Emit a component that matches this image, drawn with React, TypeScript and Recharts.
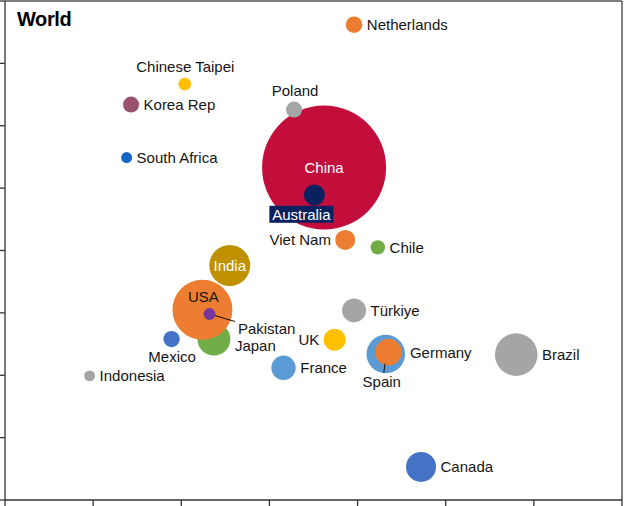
import React from "react";
import {
  ScatterChart,
  Scatter,
  XAxis,
  YAxis,
  ZAxis,
  ReferenceLine,
  Cell,
} from "recharts";

// ---- data (drawing order matters: later points sit on top) ----
const countries = [
  "China",
  "Australia",
  "Netherlands",
  "Chinese Taipei",
  "Korea Rep",
  "Poland",
  "South Africa",
  "Viet Nam",
  "Chile",
  "India",
  "Türkiye",
  "Japan",
  "USA",
  "Pakistan",
  "Mexico",
  "Indonesia",
  "UK",
  "France",
  "Spain",
  "Germany",
  "Brazil",
  "Canada",
];
const xValues = [
  3.62, 3.51, 3.96, 2.04, 1.43, 3.28, 1.38, 3.86, 4.23, 2.55, 3.96, 2.37, 2.24,
  2.32, 1.89, 0.96, 3.74, 3.16, 4.32, 4.35, 5.8, 4.72,
];
const yValues = [
  5.33, 4.89, 7.62, 6.67, 6.34, 6.26, 5.49, 4.17, 4.05, 3.76, 3.04, 2.58, 3.05,
  2.98, 2.58, 1.99, 2.57, 2.12, 2.34, 2.37, 2.33, 0.53,
];
const sizeValues = [
  3844, 110, 69, 40, 64, 64, 30, 100, 52, 420, 144, 272, 900, 36, 67, 30, 121,
  149, 372, 177, 454, 225,
];
const xTicks = [0, 1, 2, 3, 4, 5, 6, 7];
const yTicks = [0, 1, 2, 3, 4, 5, 6, 7, 8];
const title = "World";

// ---- styles ----
const colors: Record<string, string> = {
  China: "#C30D3B",
  Australia: "#0A2160",
  Netherlands: "#ED7D31",
  "Chinese Taipei": "#FFC000",
  "Korea Rep": "#985270",
  Poland: "#A5A5A5",
  "South Africa": "#1666C5",
  "Viet Nam": "#ED7D31",
  Chile: "#70AD47",
  India: "#BF9000",
  "Türkiye": "#A5A5A5",
  Japan: "#70AD47",
  USA: "#ED7D31",
  Pakistan: "#7437A0",
  Mexico: "#4472C4",
  Indonesia: "#A5A5A5",
  UK: "#FFC000",
  France: "#5B9BD5",
  Spain: "#5B9BD5",
  Germany: "#ED7D31",
  Brazil: "#A5A5A5",
  Canada: "#4472C4",
};

type LabelCfg = {
  pos: "right" | "left" | "offset";
  dx?: number;
  dy?: number;
  anchor?: "start" | "middle" | "end";
  color?: string;
  bg?: { fill: string; w: number; h: number };
  leader?: [number, number, number, number];
};

const labelLayout: Record<string, LabelCfg> = {
  China: { pos: "offset", dx: 0, dy: 0, anchor: "middle", color: "#ffffff" },
  Australia: {
    pos: "offset",
    dx: -13,
    dy: 19.3,
    anchor: "middle",
    color: "#ffffff",
    bg: { fill: "#0A2160", w: 64, h: 17 },
  },
  "Chinese Taipei": { pos: "offset", dx: 0.5, dy: -17, anchor: "middle" },
  Poland: { pos: "offset", dx: 1, dy: -18.3, anchor: "middle" },
  "Viet Nam": { pos: "left" },
  UK: { pos: "left" },
  India: { pos: "offset", dx: 0, dy: 0, anchor: "middle", color: "#ffffff" },
  USA: { pos: "offset", dx: 1, dy: -13, anchor: "middle" },
  Pakistan: {
    pos: "offset",
    dx: 28.4,
    dy: 15,
    anchor: "start",
    leader: [5.5, 1.5, 25.7, 7.4],
  },
  Japan: { pos: "offset", dx: 21, dy: 6.4, anchor: "start" },
  Mexico: { pos: "offset", dx: 0.5, dy: 18, anchor: "middle" },
  Spain: {
    pos: "offset",
    dx: -4,
    dy: 27.5,
    anchor: "middle",
    leader: [-0.7, 9.5, -2, 18.8],
  },
  Germany: { pos: "offset", dx: 21.5, dy: 0.5, anchor: "start" },
};

const FONT = "'Liberation Sans', Arial, Helvetica, sans-serif";
const TEXT_COLOR = "#151515";
const AXIS_COLOR = "#333333";
const BORDER_COLOR = "#555555";

const data = countries.map((name, i) => ({
  name,
  x: xValues[i],
  y: yValues[i],
  size: sizeValues[i],
}));

const maxSize = Math.max(...sizeValues);

function radiusOf(props: any): number {
  if (typeof props.width === "number" && props.width > 0) return props.width / 2;
  if (typeof props.size === "number") return Math.sqrt(props.size / Math.PI);
  return 0;
}

function BubbleShape(props: any) {
  const { cx, cy, fill } = props;
  if (cx == null || cy == null) return <g />;
  const r = radiusOf(props);
  return <circle cx={cx} cy={cy} r={r} fill={fill} />;
}

function LabelShape(props: any) {
  const { cx, cy, payload } = props;
  if (cx == null || cy == null || !payload) return <g />;
  const r = radiusOf(props);
  const cfg: LabelCfg = labelLayout[payload.name] || { pos: "right" };
  let x = cx;
  let y = cy;
  let anchor: "start" | "middle" | "end" = "start";
  if (cfg.pos === "right") {
    x = cx + r + 4.5;
    anchor = "start";
  } else if (cfg.pos === "left") {
    x = cx - r - 4.3;
    anchor = "end";
  } else {
    x = cx + (cfg.dx || 0);
    y = cy + (cfg.dy || 0);
    anchor = cfg.anchor || "start";
  }
  return (
    <g>
      {cfg.leader && (
        <line
          x1={cx + cfg.leader[0]}
          y1={cy + cfg.leader[1]}
          x2={cx + cfg.leader[2]}
          y2={cy + cfg.leader[3]}
          stroke="#111"
          strokeWidth={1}
        />
      )}
      {cfg.bg && (
        <rect
          x={x - cfg.bg.w / 2}
          y={y - cfg.bg.h / 2}
          width={cfg.bg.w}
          height={cfg.bg.h}
          fill={cfg.bg.fill}
        />
      )}
      <text
        x={x}
        y={y}
        dy="0.35em"
        textAnchor={anchor}
        fontFamily={FONT}
        fontSize={15}
        fill={cfg.color || TEXT_COLOR}
      >
        {payload.name}
      </text>
    </g>
  );
}

const NoTick = () => <g />;

export default function App() {
  return (
    <div
      style={{
        position: "absolute",
        left: 0,
        top: 0,
        width: 624,
        height: 510,
        background: "#ffffff",
      }}
    >
      <ScatterChart
        width={624}
        height={510}
        margin={{ top: 1, right: 2, bottom: 0, left: 0 }}
      >
        <XAxis
          type="number"
          dataKey="x"
          domain={[0, 7]}
          ticks={xTicks}
          interval={0}
          height={10}
          tickSize={8}
          tick={NoTick}
          axisLine={{ stroke: AXIS_COLOR, strokeWidth: 1.3 }}
          tickLine={{ stroke: AXIS_COLOR, strokeWidth: 1.3 }}
        />
        <YAxis
          type="number"
          dataKey="y"
          domain={[0, 8]}
          ticks={yTicks}
          interval={0}
          width={5}
          tickSize={5}
          tick={NoTick}
          axisLine={{ stroke: AXIS_COLOR, strokeWidth: 1.3 }}
          tickLine={{ stroke: AXIS_COLOR, strokeWidth: 1.3 }}
        />
        <ZAxis
          type="number"
          dataKey="size"
          domain={[0, maxSize]}
          range={[0, maxSize * Math.PI]}
        />
        <ReferenceLine y={8} stroke={BORDER_COLOR} strokeWidth={1.5} ifOverflow="visible" />
        <ReferenceLine x={7} stroke={BORDER_COLOR} strokeWidth={1.5} ifOverflow="visible" />
        <Scatter data={data} shape={BubbleShape} isAnimationActive={false}>
          {data.map((d) => (
            <Cell key={d.name} fill={colors[d.name]} />
          ))}
        </Scatter>
        <Scatter data={data} shape={LabelShape} isAnimationActive={false} legendType="none" />
      </ScatterChart>
      <div
        style={{
          position: "absolute",
          left: 17,
          top: 9,
          fontFamily: FONT,
          fontWeight: "bold",
          fontSize: 20,
          lineHeight: "20px",
          letterSpacing: -0.4,
          color: "#000",
        }}
      >
        {title}
      </div>
    </div>
  );
}
